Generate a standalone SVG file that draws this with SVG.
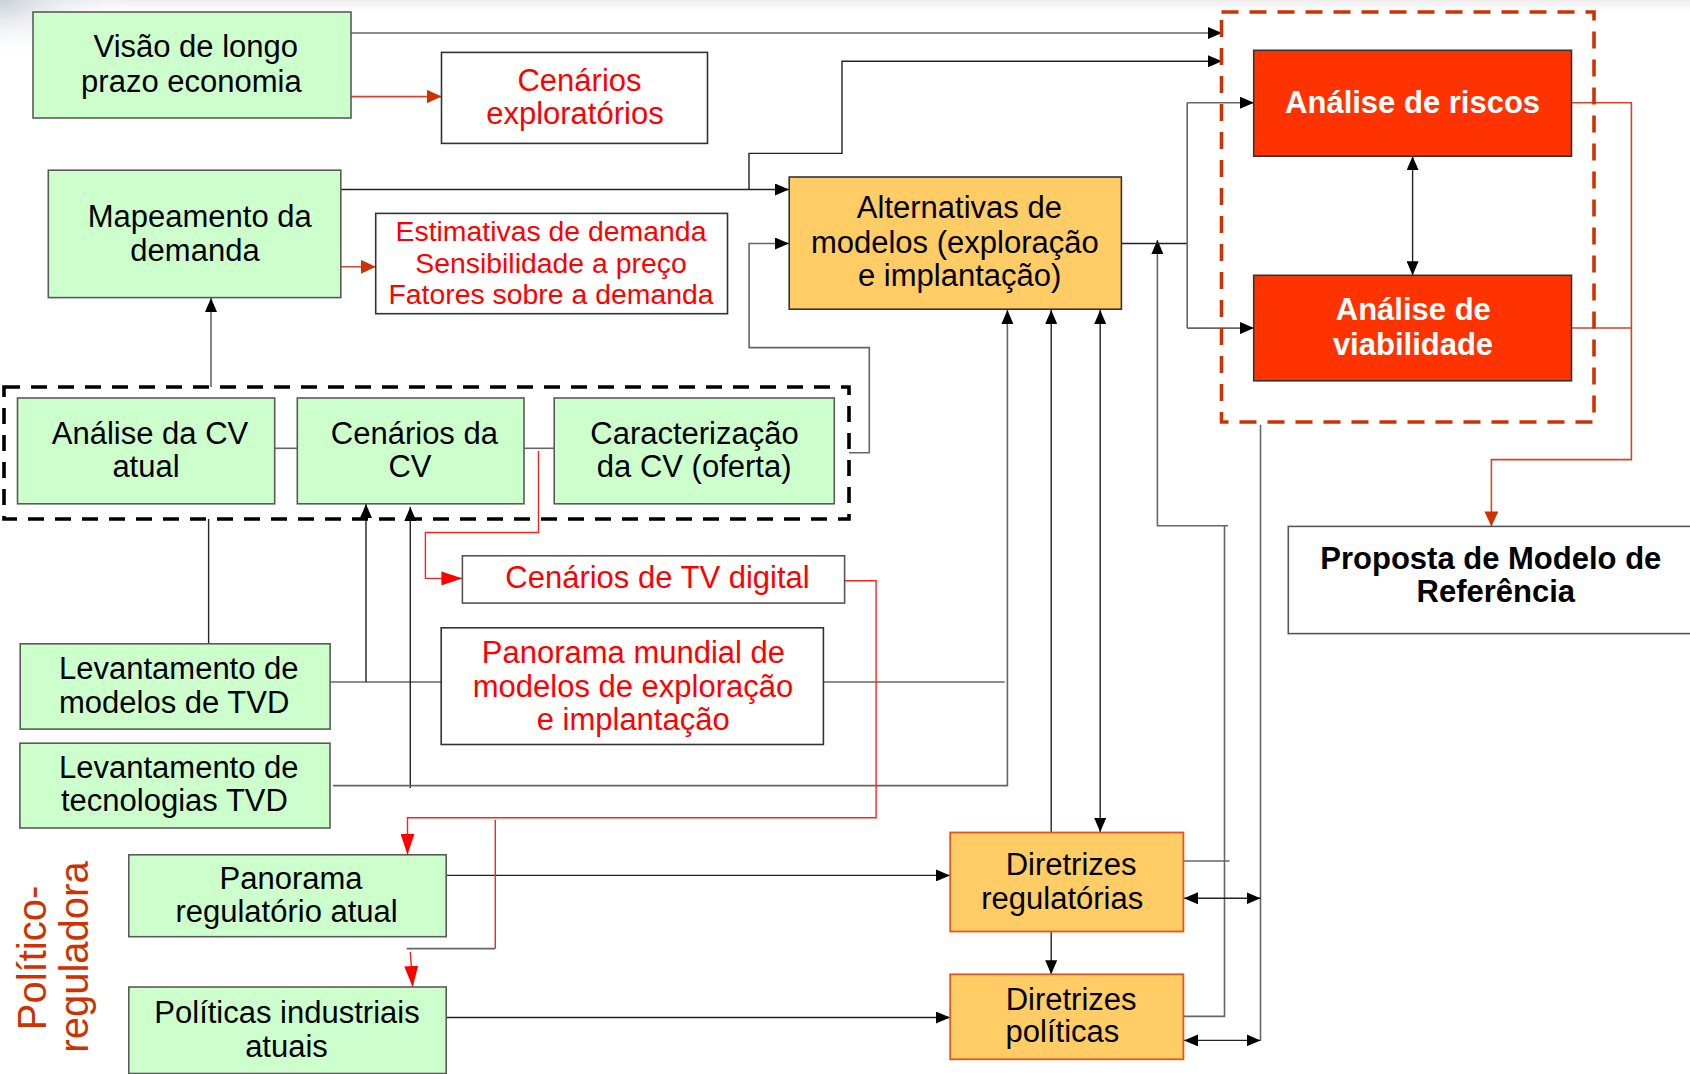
<svg xmlns="http://www.w3.org/2000/svg" width="1690" height="1074" viewBox="0 0 1690 1074">
<defs>
<style>
.t{font-family:"Liberation Sans",Arial,sans-serif;font-size:31px;fill:#000;}
.m{text-anchor:middle;}
.red{fill:#FF0000;}
.b{font-weight:bold;}
.w{fill:#FFFFFF;}
.green{fill:#CCFFCC;stroke:#5a5a5a;stroke-width:1.6;}
.white{fill:#FFFFFF;stroke:#333;stroke-width:1.6;}
.orange{fill:#FFCC66;stroke:#333;stroke-width:1.6;}
.dir{fill:#FFCC66;stroke:#E8541C;stroke-width:1.8;}
.riskbox{fill:#FF3300;stroke:#333;stroke-width:1.6;}
.k{fill:none;stroke:#222;stroke-width:1.4;}
.g{fill:none;stroke:#666;stroke-width:1.6;}
.o{fill:none;stroke:#D2452A;stroke-width:1.6;}
.r{fill:none;stroke:#FF2020;stroke-width:1.4;}
</style>
<marker id="ak" markerUnits="userSpaceOnUse" markerWidth="14" markerHeight="12" refX="14" refY="6" orient="auto-start-reverse"><path d="M0,0 L14,6 L0,12 Z" fill="#000"/></marker>
<marker id="ao" markerUnits="userSpaceOnUse" markerWidth="15" markerHeight="14" refX="15" refY="7" orient="auto"><path d="M0,0 L15,7 L0,14 Z" fill="#CC3300"/></marker>
<marker id="ar" markerUnits="userSpaceOnUse" markerWidth="21" markerHeight="14" refX="21" refY="7" orient="auto"><path d="M0,0 L21,7 L0,14 Z" fill="#FF0000"/></marker>
<radialGradient id="corner" cx="0" cy="0" r="1" gradientUnits="objectBoundingBox">
<stop offset="0" stop-color="#C9D0DA"/><stop offset="1" stop-color="#FFFFFF" stop-opacity="0"/>
</radialGradient>
<linearGradient id="topband" x1="0" y1="0" x2="0" y2="1">
<stop offset="0" stop-color="#EDEDED"/><stop offset="1" stop-color="#FFFFFF" stop-opacity="0"/>
</linearGradient>
</defs>
<rect x="0" y="0" width="1690" height="1074" fill="#FFFFFF"/>
<rect x="0" y="0" width="1690" height="18" fill="url(#topband)"/>
<rect x="0" y="0" width="130" height="60" fill="url(#corner)"/>

<g id="connectors">
<path class="g" d="M351,33 H1222" marker-end="url(#ak)"/>
<path class="k" d="M341,189.5 H789" marker-end="url(#ak)"/>
<path class="k" d="M749,190 V153.4 H842 V61.3 H1222" marker-end="url(#ak)"/>
<path class="g" d="M211,387 V298" marker-end="url(#ak)"/>
<path class="g" d="M274.7,448.3 H297.3"/>
<path class="g" d="M524,448.3 H554.2"/>
<path class="g" d="M849,452.7 H869.3 V347.6 H749.1 V243.5 H789" marker-end="url(#ak)"/>
<path class="k" d="M208.6,519 V644"/>
<path class="g" d="M330,682 H441.2"/>
<path class="k" d="M366,682 V504" marker-end="url(#ak)"/>
<path class="k" d="M410.3,788 V507" marker-end="url(#ak)"/>
<path class="g" d="M333,785.6 H1007.4 V310" marker-end="url(#ak)"/>
<path class="g" d="M823.4,682 H1004.6"/>
<path class="k" d="M1051.2,832.5 V310" marker-end="url(#ak)"/>
<path class="k" d="M1100.2,310 V832" marker-start="url(#ak)" marker-end="url(#ak)"/>
<path class="k" d="M1051.2,931.5 V974.3" marker-end="url(#ak)"/>
<path class="k" d="M446.2,875.4 H950" marker-end="url(#ak)"/>
<path class="k" d="M446.2,1017.5 H950" marker-end="url(#ak)"/>
<path class="g" d="M1183.4,861 H1229.6"/>
<path class="g" d="M1183.4,1016.4 H1224.5 V525.7 H1157.4 V240" marker-end="url(#ak)"/>
<path class="g" d="M1224.5,525.7 H1228"/>
<path class="g" d="M1260.5,424.7 V1040.4"/>
<path class="k" d="M1184,898.3 H1260.5" marker-start="url(#ak)" marker-end="url(#ak)"/>
<path class="k" d="M1184,1040.4 H1260.5" marker-start="url(#ak)" marker-end="url(#ak)"/>
<path class="k" d="M1121.4,243.5 H1187.2"/>
<path class="g" d="M1187.2,102.7 V328.1"/>
<path class="g" d="M1187.2,102.7 H1254" marker-end="url(#ak)"/>
<path class="g" d="M1187.2,328.1 H1254" marker-end="url(#ak)"/>
<path class="k" d="M1412.6,156.2 V275.3" marker-start="url(#ak)" marker-end="url(#ak)"/>
<path class="o" d="M351,96.6 H441.5" marker-end="url(#ao)"/>
<path class="o" d="M341,266.8 H375.7" marker-end="url(#ao)"/>
<path class="o" d="M1571.5,102.7 H1631.4 V459.6 H1491.4 V526.4" marker-end="url(#ao)"/>
<path class="o" d="M1571.5,328 H1631.4"/>
<path class="r" d="M538.5,451 V532.5 H425.4 V578.4 H462.4" marker-end="url(#ar)"/>
<path class="r" d="M844.6,580.8 H876.1 V817.8 H407.5 V854.8" marker-end="url(#ar)"/>
<path class="r" d="M495.3,819.9 V948.6"/>
<path class="g" d="M495.3,948.6 H406.6"/>
<path class="r" d="M410.3,952 L412.7,987" marker-end="url(#ar)"/>
</g>

<g id="group-cv">
<rect x="4" y="387" width="845" height="132" fill="none" stroke="#000" stroke-width="3.6" stroke-dasharray="16 11"/>
</g>
<g id="group-analise">
<rect x="1221.5" y="12" width="372.5" height="410" fill="none" stroke="#CC3300" stroke-width="3.6" stroke-dasharray="17 11"/>
</g>

<g id="visao">
<rect class="green" x="33" y="12" width="318" height="106"/>
<text class="t m" x="195.8" y="57.2">Visão de longo</text>
<text class="t m" x="191.4" y="91.8">prazo economia</text>
</g>
<g id="cenarios-exploratorios">
<rect class="white" x="441.5" y="52.4" width="266" height="91"/>
<text class="t m red" x="579.5" y="90.8">Cenários</text>
<text class="t m red" x="574.9" y="124">exploratórios</text>
</g>
<g id="mapeamento">
<rect class="green" x="48.3" y="170.2" width="292.5" height="127.4"/>
<text class="t m" x="199.7" y="226.5">Mapeamento da</text>
<text class="t m" x="195" y="261">demanda</text>
</g>
<g id="estimativas">
<rect class="white" x="375.7" y="213.4" width="351.8" height="100.3"/>
<text class="t m red" x="551" y="241.4" style="font-size:28.4px">Estimativas de demanda</text>
<text class="t m red" x="551" y="273" style="font-size:28.4px">Sensibilidade a preço</text>
<text class="t m red" x="551" y="303.8" style="font-size:28.4px">Fatores sobre a demanda</text>
</g>
<g id="alternativas">
<rect class="orange" x="789.2" y="177" width="332.2" height="132.2"/>
<text class="t m" x="959.4" y="218.2">Alternativas de</text>
<text class="t m" x="954.8" y="252.7">modelos (exploração</text>
<text class="t m" x="959.7" y="286">e implantação)</text>
</g>
<g id="analise-cv">
<rect class="green" x="17.5" y="398" width="257.2" height="105.8"/>
<text class="t m" x="150" y="443.5">Análise da CV</text>
<text class="t m" x="146" y="477">atual</text>
</g>
<g id="cenarios-cv">
<rect class="green" x="297.3" y="398" width="226.7" height="105.8"/>
<text class="t m" x="414.4" y="443.5">Cenários da</text>
<text class="t m" x="410" y="477">CV</text>
</g>
<g id="caracterizacao">
<rect class="green" x="554.2" y="398" width="280.1" height="105.8"/>
<text class="t m" x="694.5" y="443.5">Caracterização</text>
<text class="t m" x="694.2" y="477">da CV (oferta)</text>
</g>
<g id="riscos">
<rect class="riskbox" x="1253.7" y="50.3" width="317.8" height="105.9"/>
<text class="t m b w" x="1412.6" y="113">Análise de riscos</text>
</g>
<g id="viabilidade">
<rect class="riskbox" x="1253.7" y="275.3" width="317.8" height="105.5"/>
<text class="t m b w" x="1413.3" y="320.2">Análise de</text>
<text class="t m b w" x="1413" y="355.1">viabilidade</text>
</g>
<g id="proposta">
<rect class="white" x="1288.3" y="526.4" width="420" height="107.2" style="stroke:#555"/>
<text class="t m b" x="1490.8" y="568.5">Proposta de Modelo de</text>
<text class="t m b" x="1495.8" y="602.3">Referência</text>
</g>
<g id="cenarios-tv">
<rect class="white" x="462.4" y="555.8" width="382.2" height="47.3" style="stroke:#555"/>
<text class="t m red" x="657.5" y="588.4">Cenários de TV digital</text>
</g>
<g id="panorama-mundial">
<rect class="white" x="441.2" y="627.8" width="382.2" height="116.7"/>
<text class="t m red" x="633.4" y="662.7">Panorama mundial de</text>
<text class="t m red" x="633" y="696.6">modelos de exploração</text>
<text class="t m red" x="633.2" y="729.8">e implantação</text>
</g>
<g id="lev-modelos">
<rect class="green" x="20.2" y="643.8" width="309.9" height="85.3"/>
<text class="t" x="59" y="679.1">Levantamento de</text>
<text class="t" x="59" y="713.4">modelos de TVD</text>
</g>
<g id="lev-tecnologias">
<rect class="green" x="19.9" y="743.2" width="310.1" height="84.8"/>
<text class="t" x="59" y="778.4">Levantamento de</text>
<text class="t" x="61" y="811">tecnologias TVD</text>
</g>
<g id="panorama-regulatorio">
<rect class="green" x="128.8" y="854.8" width="317.4" height="81.9"/>
<text class="t m" x="291.1" y="888.7">Panorama</text>
<text class="t m" x="286.6" y="922.3">regulatório atual</text>
</g>
<g id="politicas-industriais">
<rect class="green" x="128.8" y="987" width="317.4" height="86.5"/>
<text class="t m" x="287" y="1023.3">Políticas industriais</text>
<text class="t m" x="286.5" y="1056.5">atuais</text>
</g>
<g id="diretrizes-regulatorias">
<rect class="dir" x="950.2" y="832.5" width="233.2" height="99"/>
<text class="t m" x="1071.1" y="875">Diretrizes</text>
<text class="t m" x="1062.2" y="908.6">regulatórias</text>
</g>
<g id="diretrizes-politicas">
<rect class="dir" x="950.2" y="974.3" width="233.2" height="85"/>
<text class="t m" x="1071.1" y="1009.6">Diretrizes</text>
<text class="t m" x="1062.4" y="1042">políticas</text>
</g>
<g id="label-politico">
<text class="t m" style="font-size:40px;fill:#CC3300" transform="translate(46,958) rotate(-90)">Político-</text>
<text class="t m" style="font-size:40px;fill:#CC3300" transform="translate(88,957) rotate(-90)">reguladora</text>
</g>
</svg>
